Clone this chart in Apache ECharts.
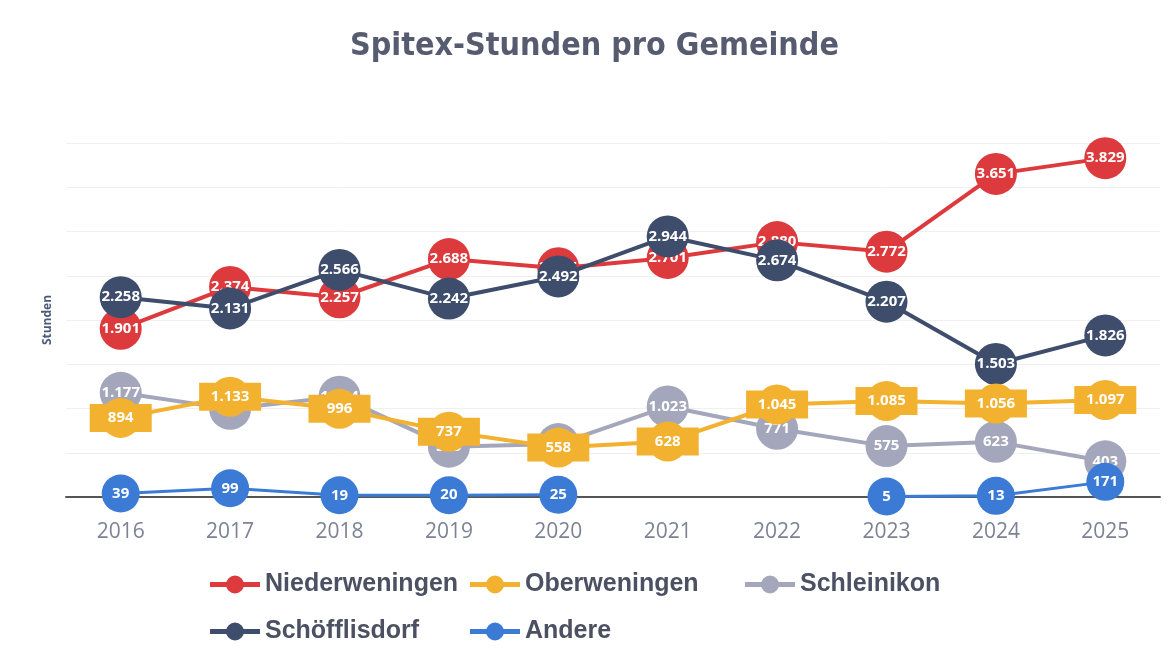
<!DOCTYPE html>
<html>
<head>
<meta charset="utf-8">
<script src="https://cdn.jsdelivr.net/npm/echarts@6/dist/echarts.min.js"></script>
<style>
html,body{margin:0;padding:0;background:#fff;}
#chart{width:1176px;height:659px;}
</style>
</head>
<body>
<div id="chart"></div>
<script>
const years = ['2016','2017','2018','2019','2020','2021','2022','2023','2024','2025'];
const niederweningen = [1901, 2374, 2257, 2688, 2585, 2701, 2880, 2772, 3651, 3829];
const oberweningen   = [894, 1133, 996, 737, 558, 628, 1045, 1085, 1056, 1097];
const schleinikon    = [1177, 996, 1134, 569, 598, 1023, 771, 575, 623, 403];
const schoefflisdorf = [2258, 2131, 2566, 2242, 2492, 2944, 2674, 2207, 1503, 1826];
const andere         = [39, 99, 19, 20, 25, null, null, 5, 13, 171];

const fmt = v => String(v).replace(/\B(?=(\d{3})+(?!\d))/g, '.');
const tagPath = 'path://M-31,-14 L31,-14 L31,14 L-31,14 Z M-20,0 A20,20 0 1,1 20,0 A20,20 0 1,1 -20,0 Z';
const legendIcon = 'path://M0,-2.5 L50,-2.5 L50,2.5 L0,2.5 Z M16,0 A9,9 0 1,1 34,0 A9,9 0 1,1 16,0 Z';

function mk(name, data, color, z, symbol, size, width) {
  return {
    name, type: 'line', data, z,
    symbol, symbolSize: size,
    showAllSymbol: true,
    connectNulls: false,
    lineStyle: { color, width: width || 4 },
    itemStyle: { color },
    label: {
      show: true, position: 'inside', color: '#fff',
      fontFamily: 'Open Sans', fontWeight: 'bold', fontSize: 15,
      formatter: p => fmt(p.value)
    },
    emphasis: { disabled: true },
    animation: false
  };
}

const legendText = { fontFamily: 'Liberation Sans', fontWeight: 'bold', fontSize: 25, color: '#4b5062' };
function lg(name, left, top) {
  return { data: [{ name, icon: legendIcon }], left, top, itemWidth: 50, itemHeight: 18, itemGap: 0,
    padding: 0, textStyle: legendText, selectedMode: false };
}

const chart = echarts.init(document.getElementById('chart'));
chart.setOption({
  backgroundColor: '#fff',
  title: {
    text: 'Spitex-Stunden pro Gemeinde', left: 350, top: 31, padding: 0,
    textStyle: { fontFamily: 'DejaVu Sans Condensed, Liberation Sans, sans-serif', fontWeight: 'bold', fontSize: 32, color: '#575b70' }
  },
  legend: [
    lg('Niederweningen', 210, 572),
    lg('Oberweningen', 470, 572),
    lg('Schleinikon', 745, 572),
    lg('Schöfflisdorf', 210, 619),
    lg('Andere', 470, 619)
  ],
  grid: { left: 66, right: 16, top: 143, bottom: 162 },
  xAxis: {
    type: 'category', data: years, boundaryGap: true,
    axisLine: { show: true, lineStyle: { color: '#555', width: 2 } },
    axisTick: { show: false },
    axisLabel: { margin: 25, fontFamily: 'Open Sans', fontSize: 21, color: '#7d8394' },
    splitLine: { show: false }
  },
  yAxis: {
    type: 'value', min: 0, max: 4000, interval: 500,
    name: 'Stunden', nameLocation: 'middle', nameRotate: 90, nameGap: 12,
    nameTextStyle: { fontFamily: 'Open Sans', fontWeight: 'bold', fontSize: 12, color: '#4a5a7c' },
    axisLabel: { show: false }, axisLine: { show: false }, axisTick: { show: false },
    splitLine: { lineStyle: { color: '#f0f0f0', width: 1 } }
  },
  series: [
    mk('Niederweningen', niederweningen, '#dc3a3d', 2, 'circle', 42),
    mk('Oberweningen', oberweningen, '#f2b12e', 4, tagPath, [62, 40]),
    mk('Schleinikon', schleinikon, '#a4a7bb', 3, 'circle', 42),
    mk('Schöfflisdorf', schoefflisdorf, '#3f4d6c', 3, 'circle', 42),
    mk('Andere', andere, '#3b7bd6', 5, 'circle', 38, 3)
  ]
});
</script>
</body>
</html>
